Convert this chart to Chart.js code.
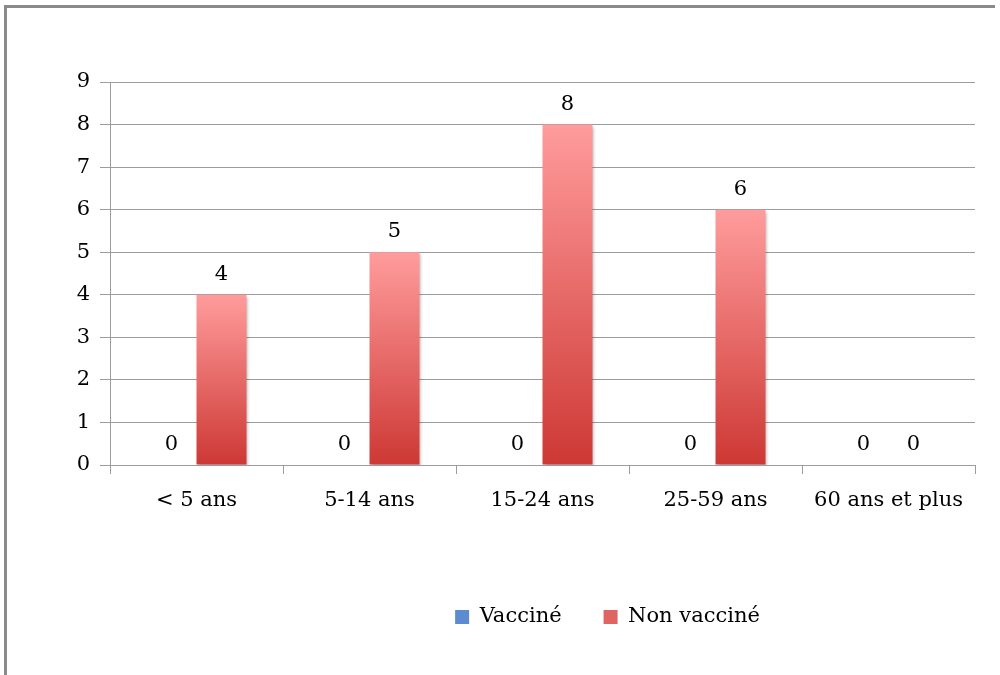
<!DOCTYPE html>
<html>
<head>
<meta charset="utf-8">
<script src="https://cdn.jsdelivr.net/npm/chart.js@4/dist/chart.umd.min.js"></script>
<style>
  html, body { margin: 0; padding: 0; background: #fff; }
  #wrap { position: relative; width: 1000px; height: 675px; overflow: hidden; }
  #frame { position: absolute; left: 4px; top: 5px; width: 991px; height: 680px;
           border-top: 3px solid #8a8a8a; border-left: 3px solid #8a8a8a; box-sizing: border-box; pointer-events: none; }
  canvas { position: absolute; left: 0; top: 0; }
</style>
</head>
<body>
<div id="wrap">
  <canvas id="c" width="1000" height="675"></canvas>
  <div id="frame"></div>
</div>
<script>
const categories = ["< 5 ans", "5-14 ans", "15-24 ans", "25-59 ans", "60 ans et plus"];
const vaccine = [0, 0, 0, 0, 0];
const nonVaccine = [4, 5, 8, 6, 0];
const yTicks = [0, 1, 2, 3, 4, 5, 6, 7, 8, 9];

const FONT = "'DejaVu Serif', serif";
const TEXT = '#000000';
const GRID = '#9c9c9c';

function gradFill(top, bottom, fallback) {
  return function (ctx) {
    const chart = ctx.chart;
    if (!chart.chartArea || ctx.type !== 'data') return fallback;
    const ys = chart.scales.y;
    const y = ys.getPixelForValue(ctx.raw);
    const b = ys.getPixelForValue(0);
    if (b - y < 1) return fallback;
    const g = chart.ctx.createLinearGradient(0, y, 0, b);
    g.addColorStop(0, top);
    g.addColorStop(1, bottom);
    return g;
  };
}

const shadowPlugin = {
  id: 'shadow',
  beforeDatasetsDraw(chart) {
    const c = chart.ctx;
    c.save();
    c.shadowColor = 'rgba(0,0,0,0.28)';
    c.shadowBlur = 3;
    c.shadowOffsetX = 2;
    c.shadowOffsetY = 2;
  },
  afterDatasetsDraw(chart) {
    chart.ctx.restore();
  }
};

const labelPlugin = {
  id: 'valueLabels',
  afterDatasetsDraw(chart) {
    const c = chart.ctx;
    c.save();
    c.font = '21px ' + FONT;
    c.fillStyle = TEXT;
    c.textAlign = 'center';
    c.textBaseline = 'bottom';
    chart.data.datasets.forEach((ds, di) => {
      const meta = chart.getDatasetMeta(di);
      meta.data.forEach((el, i) => {
        c.fillText(String(ds.data[i]), el.x, el.y - 10);
      });
    });
    c.restore();
  }
};

const legendShift = {
  id: 'legendShift',
  afterLayout(chart) {
    const lg = chart.legend;
    if (lg) { lg.left += 120; lg.right += 120; }
  }
};

new Chart(document.getElementById('c'), {
  type: 'bar',
  data: {
    labels: categories,
    datasets: [
      {
        label: 'Vacciné',
        data: vaccine,
        backgroundColor: gradFill('#8fb3e8', '#3c6fc4', '#4f81bd'),
        borderWidth: 0,
        barPercentage: 1,
        categoryPercentage: 0.578
      },
      {
        label: 'Non vacciné',
        data: nonVaccine,
        backgroundColor: gradFill('#ff9c9c', '#cd3834', '#e06666'),
        borderWidth: 0,
        barPercentage: 1,
        categoryPercentage: 0.578
      }
    ]
  },
  options: {
    responsive: false,
    animation: false,
    events: [],
    layout: { padding: { left: 0, right: 25, top: 82, bottom: 37.5 } },
    plugins: {
      tooltip: { enabled: false },
      legend: {
        position: 'bottom',
        align: 'center',
        labels: {
          boxWidth: 14,
          boxHeight: 14,
          padding: 42,
          color: TEXT,
          font: { family: FONT, size: 21 },
          generateLabels(chart) {
            const cols = ['#5b8bd0', '#e06464'];
            return chart.data.datasets.map((ds, i) => ({
              text: ds.label,
              fillStyle: cols[i],
              strokeStyle: cols[i],
              lineWidth: 0,
              hidden: false,
              datasetIndex: i
            }));
          }
        }
      }
    },
    scales: {
      x: {
        offset: true,
        grid: { display: true, drawOnChartArea: false, drawTicks: true, tickLength: 9, color: GRID, offset: true },
        border: { display: true, color: GRID, width: 1 },
        ticks: { color: TEXT, font: { family: FONT, size: 21 }, padding: 14, maxRotation: 0, autoSkip: false },
        afterFit(scale) { scale.height = 99.5; }
      },
      y: {
        min: 0,
        max: 9,
        afterBuildTicks(scale) { scale.ticks = yTicks.map(v => ({ value: v })); },
        grid: { color: GRID, lineWidth: 1, drawTicks: true, tickLength: 10 },
        border: { display: true, color: GRID, width: 1 },
        ticks: { color: TEXT, font: { family: FONT, size: 21 }, padding: 10 },
        afterFit(scale) { scale.width = 110; }
      }
    }
  },
  plugins: [shadowPlugin, labelPlugin, legendShift]
});
</script>
</body>
</html>
